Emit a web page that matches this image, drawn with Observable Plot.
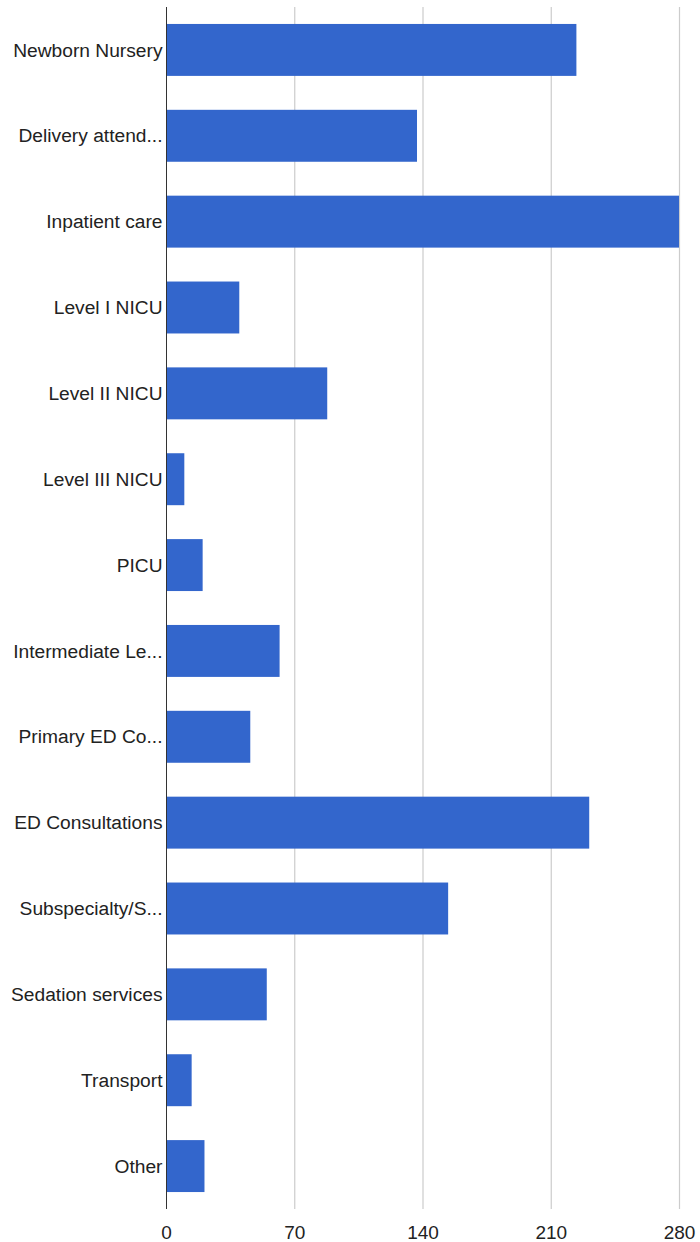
<!DOCTYPE html>
<html>
<head>
<meta charset="utf-8">
<script src="https://cdn.jsdelivr.net/npm/d3@7"></script>
<script src="https://cdn.jsdelivr.net/npm/@observablehq/plot@0.6"></script>
<style>
  html, body { margin: 0; padding: 0; background: #fff; }
  #chart svg { display: block; }
</style>
</head>
<body>
<div id="chart"></div>
<script>
const categories = [
  "Newborn Nursery",
  "Delivery attend...",
  "Inpatient care",
  "Level I NICU",
  "Level II NICU",
  "Level III NICU",
  "PICU",
  "Intermediate Le...",
  "Primary ED Co...",
  "ED Consultations",
  "Subspecialty/S...",
  "Sedation services",
  "Transport",
  "Other"
];
const values = [224, 137, 280, 40, 88, 10, 20, 62, 46, 231, 154, 55, 14, 21];
const xTicks = [0, 70, 140, 210, 280];

const data = categories.map((c, i) => ({category: c, value: values[i]}));

const chart = Plot.plot({
  width: 700,
  height: 1242,
  marginTop: 7,
  marginBottom: 33,
  marginLeft: 166,
  marginRight: 21,
  style: {fontFamily: "'Liberation Sans', Arial, sans-serif", fontSize: "18px", color: "#222", background: "#fff"},
  x: {domain: [0, 280], ticks: xTicks, label: null, grid: false},
  y: {domain: categories, label: null, paddingInner: 0.395, paddingOuter: 0.1975, round: false},
  marks: [
    Plot.ruleX(xTicks.filter(d => d > 0), {stroke: "#cccccc", strokeWidth: 1.2, strokeOpacity: 1}),
    Plot.barX(data, {x: "value", y: "category", fill: "#3366cc"}),
    Plot.ruleX([0], {stroke: "#333", strokeWidth: 1}),
    Plot.axisX({ticks: xTicks, tickSize: 0, tickPadding: 16, fontSize: 19, label: null}),
    Plot.axisY({tickSize: 0, tickPadding: 4, fontSize: 19.2, label: null})
  ]
});
document.getElementById("chart").appendChild(chart);
</script>
</body>
</html>
